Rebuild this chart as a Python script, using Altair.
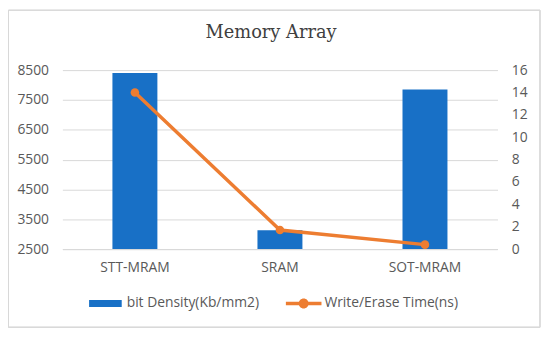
import altair as alt
import pandas as pd

categories = ["STT-MRAM", "SRAM", "SOT-MRAM"]
bit_density = [8400, 3130, 7850]
write_time = [14, 1.7, 0.4]
series_names = ["bit Density(Kb/mm2)", "Write/Erase Time(ns)"]
left_ticks = [2500, 3500, 4500, 5500, 6500, 7500, 8500]
right_ticks = [0, 2, 4, 6, 8, 10, 12, 14, 16]

BLUE = "#1870C6"
ORANGE = "#ED7D31"
GRID = "#D9D9D9"
LABEL = "#595959"
FONT = "Open Sans"

df = pd.DataFrame({"cat": categories, "density": bit_density, "time": write_time})

xenc = alt.X("cat:N", sort=categories,
             scale=alt.Scale(paddingInner=0, paddingOuter=0),
             axis=alt.Axis(title=None, labelAngle=0, ticks=False, domain=True,
                           domainColor=GRID, labelPadding=12, labelFont=FONT,
                           labelFontSize=14, labelColor=LABEL))

bar_symbol = "M-1,-0.21H1V0.21H-1Z"
line_symbol = ("M-1,-0.1H1V0.1H-1Z "
               "M0.28,0A0.28,0.28,0,1,1,-0.28,0A0.28,0.28,0,1,1,0.28,0Z")

bars = alt.Chart(df).transform_calculate(series=f"'{series_names[0]}'").mark_bar(
    width=alt.RelativeBandSize(0.31)
).encode(
    x=xenc,
    y=alt.Y("density:Q", scale=alt.Scale(domain=[2500, 8500], zero=False, nice=False),
            axis=alt.Axis(title=None, values=left_ticks, ticks=False, domain=False,
                          format="d", grid=True, gridColor=GRID, labelPadding=14,
                          labelFont=FONT, labelFontSize=14, labelColor=LABEL)),
    y2=alt.datum(2500),
    color=alt.Color("series:N", scale=alt.Scale(domain=[series_names[0]], range=[BLUE]),
                    legend=alt.Legend(title=None, orient="none", legendX=27, legendY=219.5,
                                      symbolType=bar_symbol, symbolSize=33 * 33,
                                      symbolStrokeWidth=0, labelOffset=5, padding=0,
                                      labelFont=FONT, labelFontSize=14, labelColor=LABEL)),
)

yright = alt.Y("time:Q", scale=alt.Scale(domain=[0, 16], nice=False),
               axis=alt.Axis(title=None, orient="right", values=right_ticks, ticks=False,
                             domain=False, grid=False, labelPadding=14, labelFont=FONT,
                             labelFontSize=14, labelColor=LABEL))

line = alt.Chart(df).mark_line(color=ORANGE, strokeWidth=3.5).encode(x=xenc, y=yright)

points = alt.Chart(df).transform_calculate(series=f"'{series_names[1]}'").mark_point(
    filled=True, size=75, opacity=1
).encode(
    x=xenc,
    y=yright,
    color=alt.Color("series:N", scale=alt.Scale(domain=[series_names[1]], range=[ORANGE]),
                    legend=alt.Legend(title=None, orient="none", legendX=226, legendY=218,
                                      symbolType=line_symbol, symbolSize=36 * 36,
                                      symbolStrokeWidth=0, labelOffset=3, padding=0,
                                      labelFont=FONT, labelFontSize=14, labelColor=LABEL)),
)

frame = alt.Chart(df).mark_rect(fill=None, stroke=GRID, strokeWidth=1).encode(
    x=alt.value(-54.5), x2=alt.value(483), y=alt.value(-60.5), y2=alt.value(260)
)

chart = alt.layer(
    frame, bars, alt.layer(line, points)
).resolve_scale(
    y="independent", color="independent"
).properties(
    width=440, height=181,
    padding={"left": 55, "top": 61, "right": 45, "bottom": 80},
    autosize=alt.AutoSizeParams(type="none"),
    title=alt.Title("Memory Array", font="DejaVu Serif", fontSize=18, fontWeight="normal",
                    color="#404040", anchor="middle", dx=-9, offset=-46.5,
                    baseline="alphabetic"),
).configure_view(stroke=None)

chart.save("out.html", embed_options={"renderer": "svg", "actions": False})
